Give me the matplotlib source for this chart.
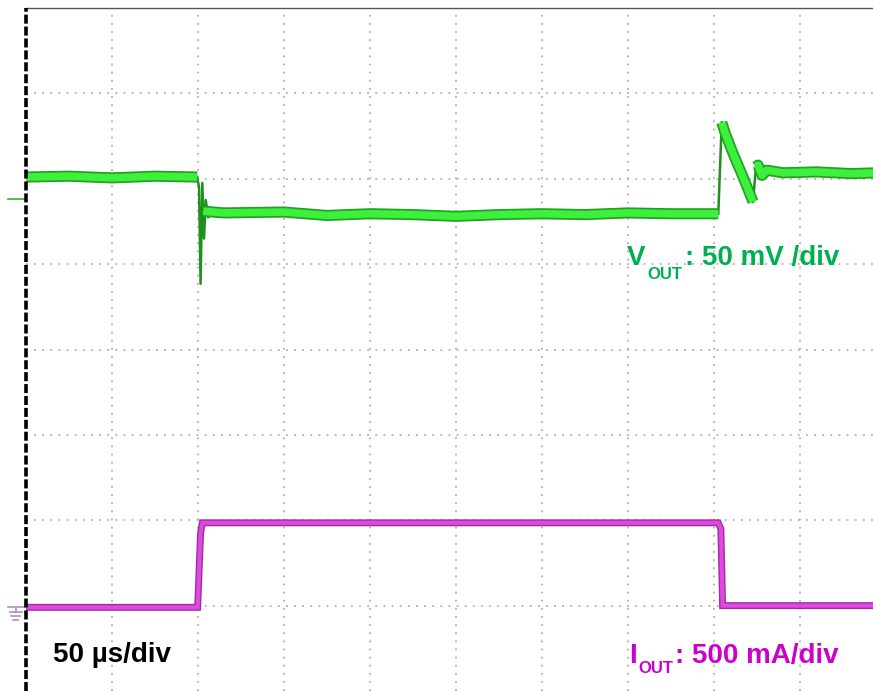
import numpy as np
import matplotlib
matplotlib.use("Agg")
import matplotlib.pyplot as plt

nan = float("nan")

# time in µs (50 µs/div), trace positions in screen divisions
vout_band_t = [0, 25, 50, 75, 99.5, nan,
               103, 115, 150, 175, 200, 225, 250, 275, 300, 325, 350, 375, 402.5, nan,
               404.5, 406.4, 411, 416.9, 422.7, nan,
               424.4, 425.6, 427.9, 430.8, 440, 460, 480, 495]
vout_band_v = [6.02, 6.03, 6.01, 6.03, 6.02, nan,
               5.62, 5.60, 5.61, 5.57, 5.59, 5.58, 5.56, 5.58, 5.59, 5.58, 5.60, 5.59, 5.59, nan,
               6.66, 6.54, 6.30, 6.02, 5.73, nan,
               6.14, 6.16, 6.04, 6.10, 6.07, 6.08, 6.06, 6.07]
# thin transient strokes (load step / release)
vout_edge_t = [99.5, 100.6, 101.5, 102.5, 103.5, 104.5, 106, nan, 402.5, 404.5, nan, 422.7, 424.4]
vout_edge_v = [6.02, 5.90, 4.77, 5.95, 5.30, 5.75, 5.55, nan, 5.59, 6.66, nan, 5.73, 6.14]

iout_t = [0, 99.8, 101.5, 102.5, 402.5, 404, 405, 495]
iout_v = [0.98, 0.98, 1.85, 1.97, 1.97, 1.90, 1.00, 1.00]

W, H = 873, 691
fig = plt.figure(figsize=(W / 100, H / 100), dpi=100)
ax = fig.add_axes([26 / W, 0, (W - 26) / W, (H - 8) / H])
ax.set_xlim(0, (W - 26) / 86 * 50)
ax.set_ylim(0, 8)
ax.set_xticks([])
ax.set_yticks([])
for s in ["right", "bottom", "left"]:
    ax.spines[s].set_visible(False)
ax.spines["top"].set_color("#555555")
ax.spines["top"].set_linewidth(1)

# dotted graticule
for k in range(1, 10):
    ax.axvline(k * 50, color="#b0b0b0", lw=1.3, linestyle=(0, (1, 3.5)), zorder=1)
for k in range(1, 8):
    ax.axhline(k, color="#b0b0b0", lw=1.3, linestyle=(0, (1, 3.5)), zorder=1)
ax.axvline(0, color="black", lw=2.6, linestyle=(0, (2.5, 0.8)), zorder=5, clip_on=False)

# traces
ax.plot(iout_t, iout_v, color="#a02ca0", lw=5, solid_joinstyle="miter", zorder=3)
ax.plot(iout_t, iout_v, color="#e048e0", lw=3, solid_joinstyle="miter", zorder=4)
ax.plot(vout_edge_t, vout_edge_v, color="#1f8f1f", lw=1.8, zorder=3)
ax.plot(vout_band_t, vout_band_v, color="#23a023", lw=8, solid_capstyle="butt", zorder=3)
ax.plot(vout_band_t, vout_band_v, color="#3cf03c", lw=5.5, solid_capstyle="butt", zorder=4)

# channel markers at left edge
ax.plot([-10.5, -1], [5.76, 5.76], color="#30b030", lw=1.2, clip_on=False)
ax.plot([-10.5, -1], [0.98, 0.98], color="#b090b0", lw=1.2, clip_on=False)
ax.plot([-6, -6], [0.98, 0.93], color="#b090b0", lw=1.2, clip_on=False)
for dy, half in [(0.93, 3.5), (0.88, 2.5), (0.83, 1.3)]:
    ax.plot([-6 - half, -6 + half], [dy, dy], color="#b090b0", lw=1.2, clip_on=False)

renderer = fig.canvas.get_renderer()


def label(x, y, parts, color):
    for text, size, dy, shift in parts:
        x += shift
        t = fig.text(x / W, 1 - (y + dy) / H, text, size=size, weight="bold",
                     color=color, family="Liberation Sans", va="baseline")
        x = t.get_window_extent(renderer).x1


label(53, 662, [("50 µs/div", 20, 0, 0)], "black")
label(627, 265, [("V", 20, 0, 0), ("OUT", 12, 14, 2), (": 50 mV /div", 20, 0, 3)], "#00b050")
label(629, 663, [("I", 20, 0, 0), ("OUT", 12, 10, 2), (": 500 mA/div", 20, 0, 1)], "#cc00cc")

fig.savefig("out.png", dpi=100)
